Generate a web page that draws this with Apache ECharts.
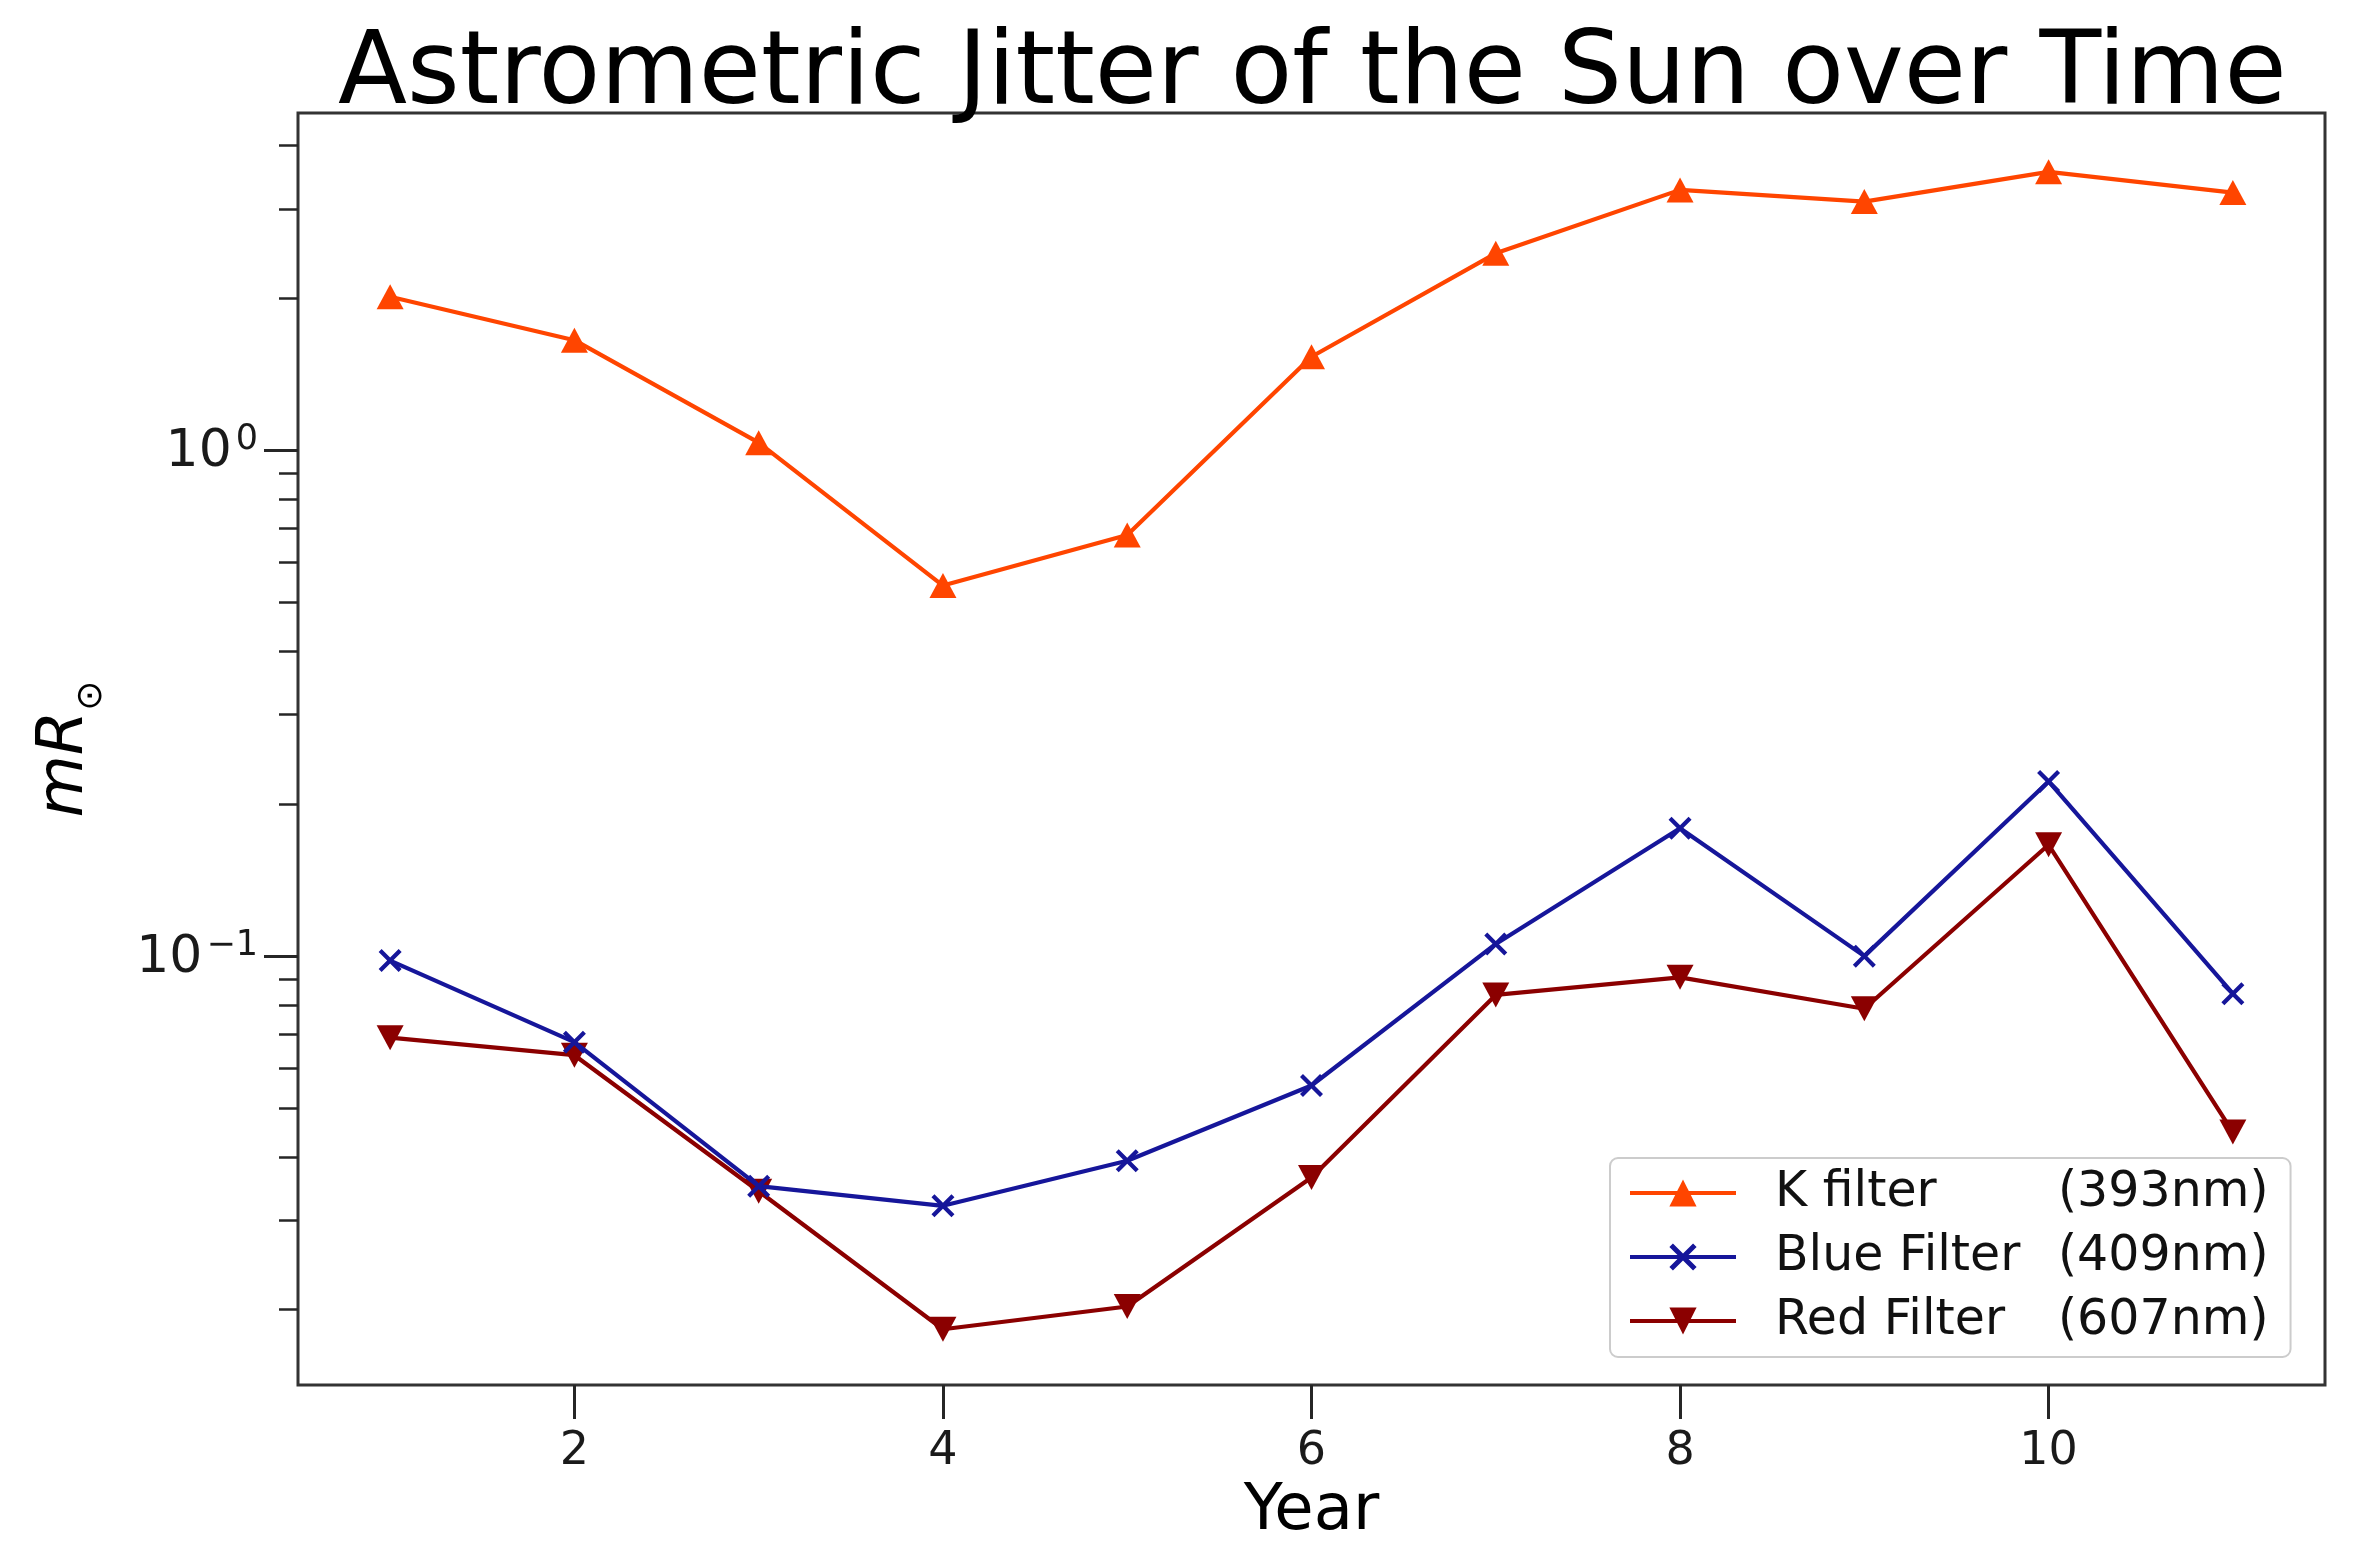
<!DOCTYPE html>
<html><head><meta charset="utf-8">
<script src="https://cdn.jsdelivr.net/npm/echarts@6/dist/echarts.min.js"></script>
<style>html,body{margin:0;padding:0;background:#fff}#c{width:2360px;height:1548px}</style>
</head><body><div id="c"></div>
<script>
const years = [1, 2, 3, 4, 5, 6, 7, 8, 9, 10, 11];
const kFilter = [2.01, 1.65, 1.035, 0.54, 0.68, 1.53, 2.45, 3.27, 3.10, 3.55, 3.23];
const blueFilter = [0.098, 0.0676, 0.0351, 0.0321, 0.0394, 0.0555, 0.1057, 0.179, 0.100, 0.2214, 0.0843];
const redFilter = [0.069, 0.0637, 0.0343, 0.0183, 0.0203, 0.0365, 0.0838, 0.0908, 0.0787, 0.166, 0.0449];
const seriesNames = ['K filter', 'Blue Filter', 'Red Filter'];
const wavelengths = ['(393nm)', '(409nm)', '(607nm)'];
const xTicks = [2, 4, 6, 8, 10];
const yMajorTicks = [0.1, 1];
const yMinorTicks = [0.02, 0.03, 0.04, 0.05, 0.06, 0.07, 0.08, 0.09, 0.2, 0.3, 0.4, 0.5, 0.6, 0.7, 0.8, 0.9, 2, 3, 4];
const xMin = 0.5, xMax = 11.5;
const yMin = 0.0142, yMax = 4.64;

const FONT = 'DejaVu Sans';
function expLabel(v) {
  const e = Math.round(v);
  return '{b|10}{e|' + (e < 0 ? '\u2212' + (-e) : String(e)) + '}';
}
const pairs = arr => years.map((y, i) => [y, arr[i]]);
const xPath = 'path://M2.6,0 L10,7.4 L17.4,0 L20,2.6 L12.6,10 L20,17.4 L17.4,20 L10,12.6 L2.6,20 L0,17.4 L7.4,10 L0,2.6 Z';

const chart = echarts.init(document.getElementById('c'), null, {renderer: 'canvas'});
chart.setOption({
  animation: false,
  backgroundColor: '#ffffff',
  textStyle: {fontFamily: FONT},
  title: {
    text: 'Astrometric Jitter of the Sun over Time',
    left: 333, top: 21,
    textStyle: {fontFamily: FONT, fontSize: 101, fontWeight: 'normal', color: '#000'}
  },
  grid: {
    left: 298, right: 35, top: 113, bottom: 163,
    show: true, borderColor: '#333', borderWidth: 3, backgroundColor: 'transparent',
    outerBoundsMode: 'none', containLabel: false
  },
  legend: {
    left: 1610, top: 1158, orient: 'vertical',
    data: seriesNames,
    itemWidth: 106, itemHeight: 34, itemGap: 14,
    padding: [10, 22, 11, 18],
    backgroundColor: 'rgba(255,255,255,0.85)',
    borderColor: '#cccccc', borderWidth: 2, borderRadius: 8,
    selectedMode: false,
    lineStyle: {width: 4},
    formatter: name => '{a|' + name + '}{b|' + wavelengths[seriesNames.indexOf(name)] + '}',
    textStyle: {
      fontFamily: FONT, fontSize: 49, color: '#111', lineHeight: 50,
      rich: {
        a: {fontFamily: FONT, fontSize: 49, color: '#111', width: 283, padding: [0, 0, 0, 34]},
        b: {fontFamily: FONT, fontSize: 49, color: '#111'}
      }
    }
  },
  xAxis: {
    type: 'value', min: xMin, max: xMax,
    name: 'Year', nameLocation: 'middle', nameGap: 94,
    nameTextStyle: {fontFamily: FONT, fontSize: 64, color: '#000'},
    axisLine: {show: false, onZero: false},
    splitLine: {show: false},
    axisTick: {show: true, customValues: xTicks, length: 34, lineStyle: {color: '#262626', width: 3}},
    axisLabel: {show: true, customValues: xTicks, margin: 44, fontFamily: FONT, fontSize: 46, color: '#1a1a1a'}
  },
  yAxis: [
    {
      type: 'log', logBase: 10, min: yMin, max: yMax, position: 'left',
      axisLine: {show: false, onZero: false}, axisTick: {show: false}, axisLabel: {show: false},
      splitLine: {show: false}, minorTick: {show: false}
    },
    {
      type: 'value', min: Math.log10(yMin), max: Math.log10(yMax), position: 'left',
      name: '{m|mR}{s|\u2299}', nameLocation: 'middle', nameGap: 188, nameRotate: 90,
      nameTextStyle: {
        rich: {
          m: {fontFamily: FONT, fontSize: 64, fontStyle: 'italic', color: '#000', lineHeight: 90, verticalAlign: 'middle'},
          s: {fontFamily: FONT, fontSize: 36, color: '#000', lineHeight: 90, verticalAlign: 'bottom'}
        }
      },
      axisLine: {show: false, onZero: false}, splitLine: {show: false},
      axisTick: {show: true, customValues: yMajorTicks.map(v => Math.log10(v)), length: 34, lineStyle: {color: '#262626', width: 3}},
      axisLabel: {show: true, customValues: yMajorTicks.map(v => Math.log10(v)), margin: 40,
        fontFamily: FONT, fontSize: 48, color: '#1a1a1a', formatter: v => expLabel(v),
        rich: {
          b: {fontFamily: FONT, fontSize: 52, color: '#1a1a1a', lineHeight: 56, verticalAlign: 'bottom', padding: [0, 4, 0, 0]},
          e: {fontFamily: FONT, fontSize: 35, color: '#1a1a1a', lineHeight: 56, verticalAlign: 'top'}
        }
      }
    },
    {
      type: 'value', min: Math.log10(yMin), max: Math.log10(yMax), position: 'left',
      axisLine: {show: false, onZero: false}, splitLine: {show: false}, axisLabel: {show: false},
      axisTick: {show: true, customValues: yMinorTicks.map(v => Math.log10(v)), length: 19, lineStyle: {color: '#262626', width: 2.5}}
    }
  ],
  series: [
    {
      name: seriesNames[0], type: 'line', yAxisIndex: 0, data: pairs(kFilter),
      color: '#ff4500', symbol: 'triangle', symbolSize: [27, 25],
      lineStyle: {width: 4.2, color: '#ff4500'}, itemStyle: {color: '#ff4500'}, z: 3
    },
    {
      name: seriesNames[1], type: 'line', yAxisIndex: 0, data: pairs(blueFilter),
      color: '#16169a', symbol: xPath, symbolSize: 23,
      lineStyle: {width: 4.2, color: '#16169a'}, itemStyle: {color: '#16169a'}, z: 4
    },
    {
      name: seriesNames[2], type: 'line', yAxisIndex: 0, data: pairs(redFilter),
      color: '#8b0000', symbol: 'triangle', symbolRotate: 180, symbolSize: [27, 25],
      lineStyle: {width: 4.2, color: '#8b0000'}, itemStyle: {color: '#8b0000'}, z: 3
    }
  ]
});
</script>
</body></html>
